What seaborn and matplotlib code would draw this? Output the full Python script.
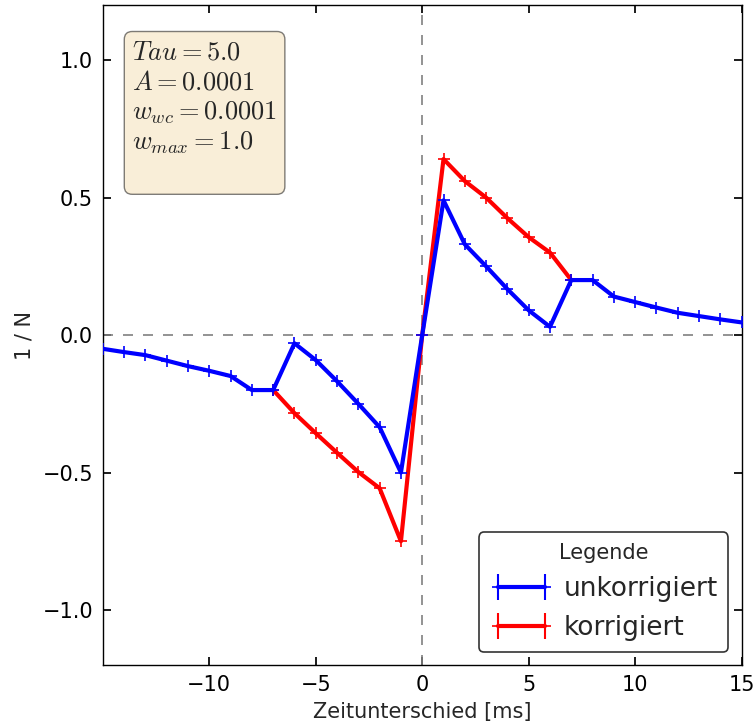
"""
Zeitunterschied vs 1/N, korrigiert / unkorrigiert
"""
import numpy as np
import pandas as pd
import matplotlib
matplotlib.use('Agg')
import matplotlib.pyplot as plt
import seaborn as sns

# data
dt_unkorr = [-15, -14, -13, -12, -11, -10, -9, -8, -7, -6, -5, -4, -3, -2, -1, 0,
             1, 2, 3, 4, 5, 6, 7, 8, 9, 10, 11, 12, 13, 14, 15]
n_unkorr = [-0.05, -0.062, -0.073, -0.093, -0.113, -0.13, -0.149, -0.2, -0.2,
            -0.03, -0.091, -0.168, -0.25, -0.335, -0.5, 0.0,
            0.49, 0.33, 0.25, 0.167, 0.09, 0.03, 0.2, 0.2, 0.14, 0.12,
            0.1, 0.081, 0.069, 0.057, 0.046]

dt_korr = [-7, -6, -5, -4, -3, -2, -1, 0, 1, 2, 3, 4, 5, 6, 7]
n_korr = [-0.2, -0.284, -0.357, -0.428, -0.498, -0.557, -0.75, 0.0,
          0.64, 0.56, 0.5, 0.425, 0.356, 0.3, 0.2]

labels = ['unkorrigiert', 'korrigiert']
colors = ['#0000ff', '#ff0000']

params_text = '\n'.join([
    r'$Tau=5.0$',
    r'$A=0.0001$',
    r'$w_{wc}=0.0001$',
    r'$w_{max}=1.0$',
    ' ',
])


def main():
    sns.set_theme(style='white', rc={
        'xtick.direction': 'in', 'ytick.direction': 'in',
        'xtick.top': True, 'ytick.right': True,
        'xtick.bottom': True, 'ytick.left': True,
        'xtick.major.size': 6, 'ytick.major.size': 6,
        'axes.edgecolor': 'black', 'axes.linewidth': 1.0,
    })
    plt.rcParams['font.family'] = ['DejaVu Sans']
    plt.rcParams['mathtext.fontset'] = 'cm'

    fig = plt.figure(figsize=(7.56, 7.28), dpi=100)
    ax = fig.add_axes([0.136, 0.0865, 0.845, 0.9065])

    ax.axhline(0, color='grey', ls='--', lw=1.2, dashes=(6, 6), zorder=1)
    ax.axvline(0, color='grey', ls='--', lw=1.2, dashes=(6, 6), zorder=1)

    df_u = pd.DataFrame({'dt': dt_unkorr, 'n': n_unkorr})
    df_k = pd.DataFrame({'dt': dt_korr, 'n': n_korr})

    sns.lineplot(data=df_k, x='dt', y='n', ax=ax, color=colors[1], lw=3,
                 marker='+', markersize=8, markeredgewidth=1.2,
                 markeredgecolor=colors[1], legend=False, zorder=3)
    sns.lineplot(data=df_u, x='dt', y='n', ax=ax, color=colors[0], lw=3,
                 marker='+', markersize=8, markeredgewidth=1.2,
                 markeredgecolor=colors[0], legend=False, zorder=4)

    # errorbar-style legend handles
    handles = []
    for lab, col in zip(labels, colors):
        h = ax.errorbar([], [], yerr=[], color=col, lw=3, marker='+',
                        markersize=8, mew=1.2, capsize=5, elinewidth=1.5,
                        label=lab)
        handles.append(h)

    ax.set_xlim(-15, 15)
    ax.set_ylim(-1.2, 1.2)
    ax.set_xticks([-10, -5, 0, 5, 10, 15])
    ax.set_yticks([-1.0, -0.5, 0.0, 0.5, 1.0])
    ax.tick_params(labelsize=15, colors='black', pad=7)
    ax.set_xlabel('Zeitunterschied [ms]', fontsize=15, labelpad=5)
    ax.set_ylabel('1 / N', fontsize=15, labelpad=6)

    ax.text(0.046, 0.948, params_text, transform=ax.transAxes, fontsize=19,
            va='top', ha='left', linespacing=1.2,
            bbox=dict(boxstyle='round,pad=0.3', facecolor='wheat', alpha=0.5,
                      edgecolor='black'))

    leg = ax.legend(handles=handles, labels=labels, loc='lower right',
                    title='Legende', fontsize=19, title_fontsize=15,
                    numpoints=2, frameon=True, fancybox=True,
                    handlelength=2.4, handletextpad=0.4, borderpad=0.4,
                    borderaxespad=0.5)
    leg.get_frame().set_edgecolor('black')
    leg.get_frame().set_linewidth(1.2)

    fig.savefig('out.png', dpi=100)


if __name__ == '__main__':
    main()
